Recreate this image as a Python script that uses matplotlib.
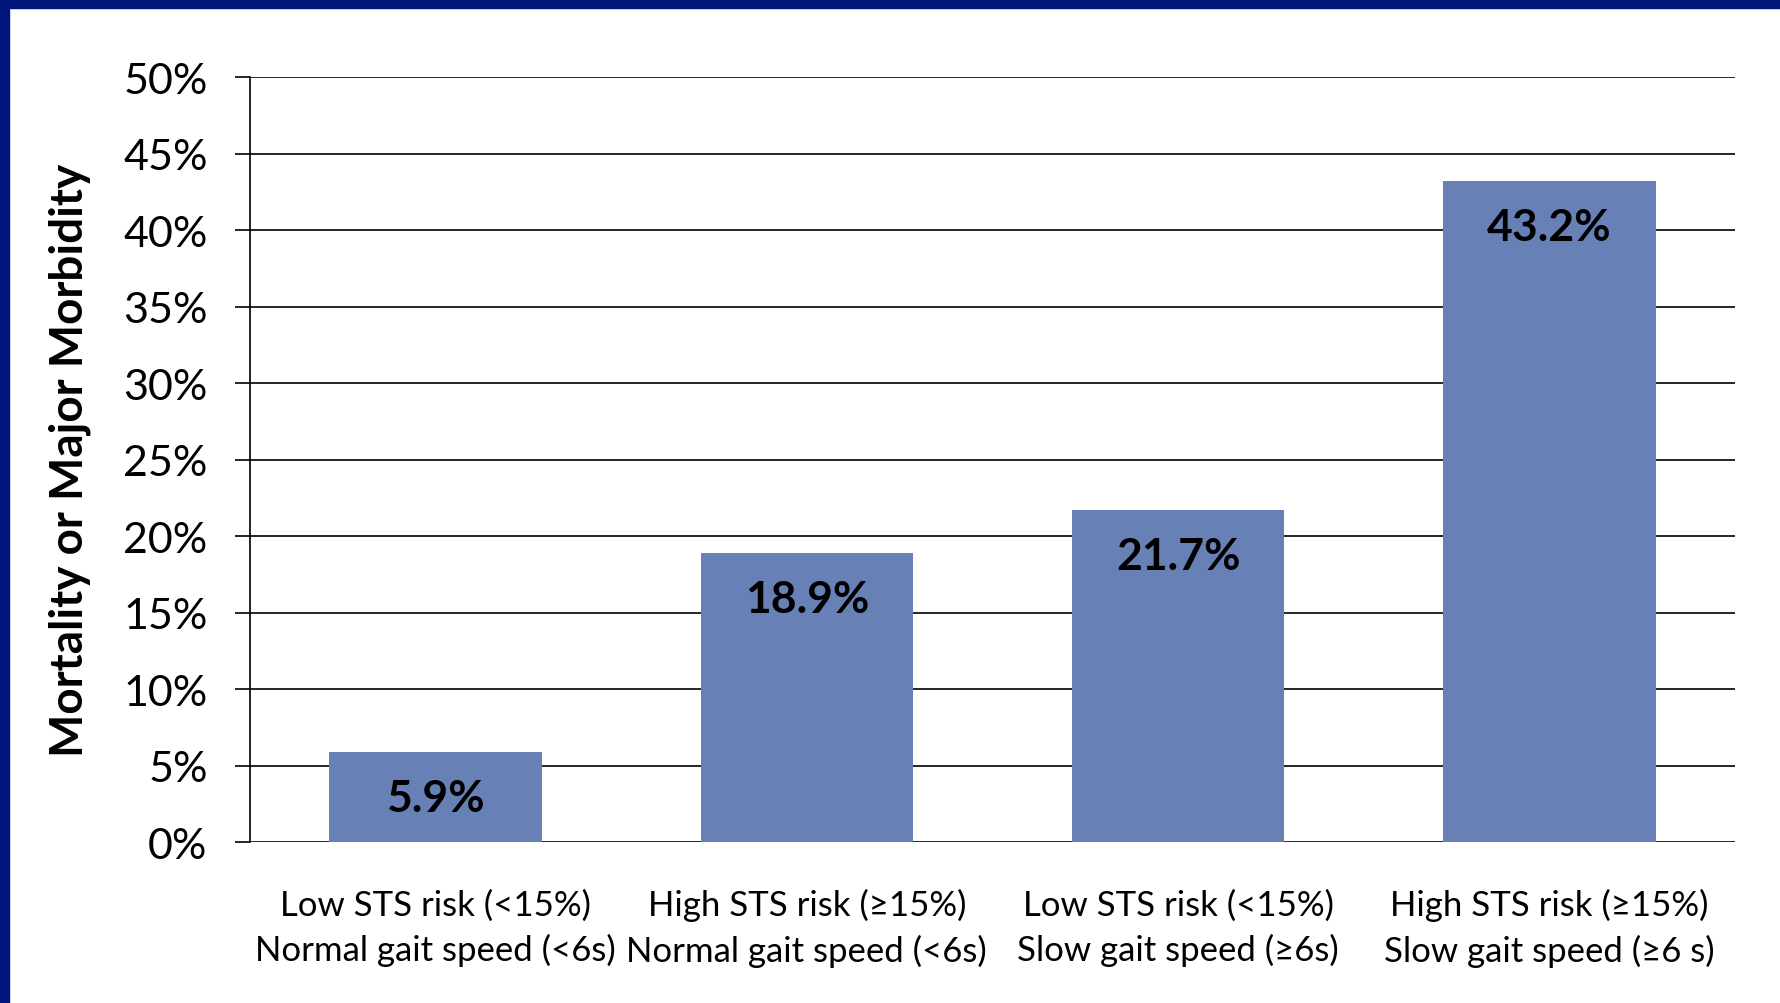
import matplotlib
matplotlib.use("Agg")
import matplotlib.pyplot as plt
import matplotlib.patches as patches

plt.rcParams['font.family'] = ['Lato', 'DejaVu Sans']

# Dades
categories = ["Low STS risk (<15%)\nNormal gait speed (<6s)",
              "High STS risk (\u226515%)\nNormal gait speed (<6s)",
              "Low STS risk (<15%)\nSlow gait speed (\u22656s)",
              "High STS risk (\u226515%)\nSlow gait speed (\u22656 s)"]
valors = [5.9, 18.9, 21.7, 43.2]
yticks = [0, 5, 10, 15, 20, 25, 30, 35, 40, 45, 50]

color_barra = "#6780b6"
color_marc = "#001479"

fig = plt.figure(figsize=(17.8, 10.04), dpi=100)
ax = fig.add_axes([0.1404, 0.1599, 0.8343, 0.7624])

x = range(len(categories))
ax.bar(x, valors, width=0.572, color=color_barra, zorder=3)

ax.set_xlim(-0.5, len(categories) - 0.5)
ax.set_ylim(0, 50)
ax.set_yticks(yticks)
ax.set_yticklabels([f"{v}%" for v in yticks], fontsize=31)
ax.set_xticks(list(x))
ax.set_xticklabels(categories, fontsize=25, linespacing=1.45)

ax.yaxis.grid(True, color="black", linewidth=1.2, zorder=0)
ax.set_axisbelow(True)
for s in ["top", "right", "bottom"]:
    ax.spines[s].set_visible(False)
ax.spines["left"].set_linewidth(1.2)
ax.tick_params(axis="y", length=11, width=1.2, pad=19.5)
ax.tick_params(axis="x", length=0, pad=33)

ax.set_ylabel("Mortality or Major Morbidity", fontsize=33, fontweight="bold")
ax.yaxis.set_label_coords(-0.107, 0.5)

# Etiquetes de valor dins de cada barra
for i, v in enumerate(valors):
    ax.annotate(f"{v}%", (i, v), xytext=(0, -33), textcoords="offset points",
                ha="center", va="center", fontsize=32, fontweight="bold", zorder=4)

# Marc blau a dalt i a l'esquerra
fig.patches.append(patches.Rectangle((0, 1 - 9 / 1004), 1, 9 / 1004, transform=fig.transFigure,
                                     color=color_marc, zorder=10))
fig.patches.append(patches.Rectangle((0, 0), 9 / 1780, 1, transform=fig.transFigure,
                                     color=color_marc, zorder=10))

fig.savefig("out.png", dpi=100)
